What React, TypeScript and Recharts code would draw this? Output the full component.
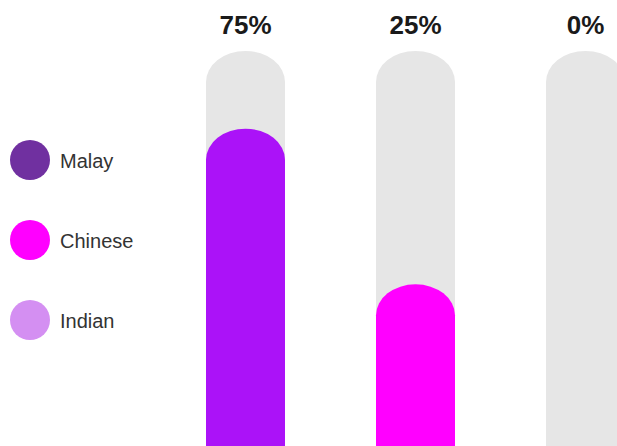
import React from 'react';
import { BarChart, Bar, XAxis, YAxis, Legend, LabelList, Cell } from 'recharts';

const CATEGORIES = ['Malay', 'Chinese', 'Indian'];
const VALUES = [75, 25, 0];
const TRACK_MAX = 100;
const AXIS_MIN = -27;
const BAR_COLORS = ['#ab12f8', '#ff00ff', '#d48ff2'];
const LEGEND_COLORS = ['#7030a0', '#ff00ff', '#d48ff2'];
const TRACK_COLOR = '#e6e6e6';
const FONT = '"Liberation Sans", Arial, Helvetica, sans-serif';

const data = CATEGORIES.map((name, i) => ({
  name,
  value: VALUES[i],
  label: `${VALUES[i]}%`,
}));

const trackKey = () => [AXIS_MIN, TRACK_MAX];
const barKey = (d: any) => (d.value > 0 ? [AXIS_MIN, d.value] : [d.value, d.value]);

const DomeBar = (props: any) => {
  const { x, y, width, height, fill } = props;
  if (!height || height <= 0) return null;
  const rx = width / 2;
  const ry = Math.min(31, height);
  const d = `M${x},${y + height} L${x},${y + ry} A${rx},${ry} 0 0 1 ${x + width},${y + ry} L${x + width},${y + height} Z`;
  return <path d={d} fill={fill} />;
};

const renderLabel = (props: any) => {
  const { x, y, width, value } = props;
  return (
    <text
      x={Number(x) + Number(width) / 2}
      y={Number(y) - 17}
      textAnchor="middle"
      fill="#1a1a1a"
      fontSize={26}
      fontWeight="bold"
      fontFamily={FONT}
    >
      {value}
    </text>
  );
};

const renderLegend = () => (
  <svg width={160} height={220}>
    {CATEGORIES.map((name, i) => (
      <g key={name}>
        <circle cx={30} cy={20 + i * 80} r={20} fill={LEGEND_COLORS[i]} />
        <text x={60} y={28 + i * 80} fontSize={20} fill="#333" fontFamily={FONT}>
          {name}
        </text>
      </g>
    ))}
  </svg>
);

export default function App() {
  return (
    <div style={{ position: 'absolute', left: 0, top: 0, width: 617, height: 446, overflow: 'hidden', background: '#fff' }}>
      <BarChart width={680} height={446} data={data} margin={{ top: 51, right: 10, bottom: 0, left: 160 }}>
        <XAxis xAxisId="track" dataKey="name" hide />
        <XAxis xAxisId="bar" dataKey="name" hide />
        <YAxis hide type="number" scale="linear" domain={[AXIS_MIN, TRACK_MAX]} allowDataOverflow />
        <Legend
          layout="horizontal"
          verticalAlign="middle"
          align="center"
          wrapperStyle={{ left: 0, top: 140, width: 160, height: 220 }}
          content={renderLegend}
        />
        <Bar xAxisId="track" dataKey={trackKey} barSize={79} fill={TRACK_COLOR} shape={<DomeBar />} isAnimationActive={false}>
          <LabelList dataKey="label" content={renderLabel} />
        </Bar>
        <Bar xAxisId="bar" dataKey={barKey} barSize={79} shape={<DomeBar />} isAnimationActive={false}>
          {data.map((d, i) => (
            <Cell key={d.name} fill={BAR_COLORS[i]} />
          ))}
        </Bar>
      </BarChart>
    </div>
  );
}
